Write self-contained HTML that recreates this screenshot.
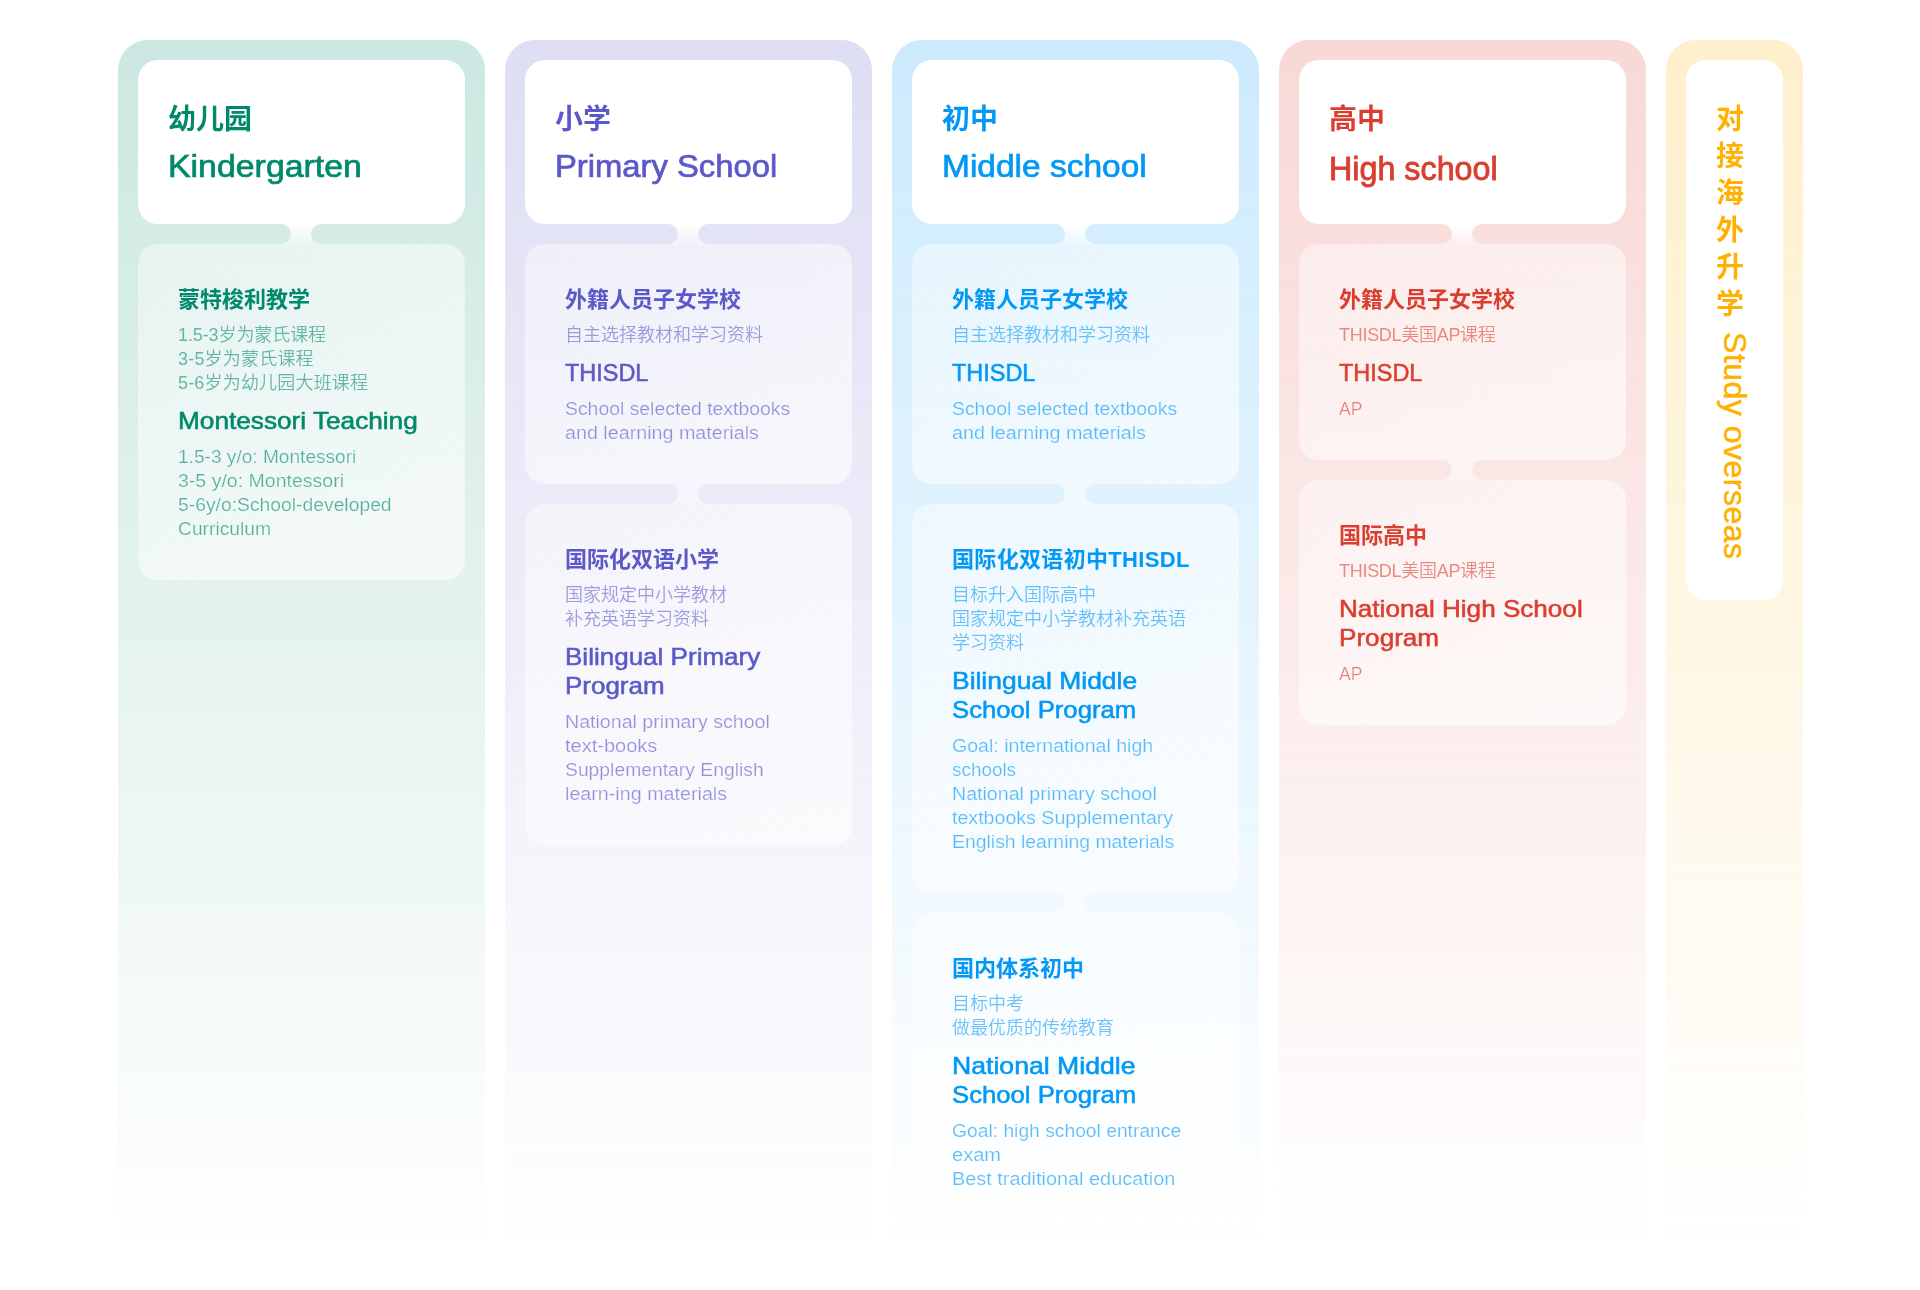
<!DOCTYPE html>
<html lang="zh-CN"><head><meta charset="utf-8">
<title>教育体系 Education System</title>
<style>
html,body{margin:0;padding:0;background:#fff;}
body{width:1920px;height:1290px;position:relative;overflow:hidden;font-family:"Liberation Sans","Noto Sans CJK SC",sans-serif;}
.col{will-change:transform;position:absolute;top:40px;height:1210px;border-radius:30px 30px 0 0;}
.card{position:absolute;left:20px;right:20px;border-radius:20px;background:linear-gradient(to bottom right,rgba(255,255,255,0.42),rgba(255,255,255,0.61));}
.card.head{background:#fff;}
.neck{position:absolute;left:50%;margin-left:-20.5px;width:40px;height:20px;display:block;}
.t{position:absolute;white-space:nowrap;margin:0;padding:0;transform-origin:0 0;}
.hz{font-size:28px;line-height:28px;height:28px;font-weight:700;}
.he{font-size:32px;line-height:32px;height:32px;font-weight:400;-webkit-text-stroke:0.7px currentColor;}
.tz{font-size:22px;line-height:22px;height:22px;font-weight:700;}
.te{font-size:24px;line-height:24px;height:24px;font-weight:400;-webkit-text-stroke:0.55px currentColor;}
.lz{font-size:18px;line-height:18px;height:18px;font-weight:350;}
.le{font-size:18px;line-height:18px;height:18px;font-weight:400;}
.vz{position:absolute;font-size:28px;line-height:28px;font-weight:700;width:28px;text-align:center;}
.ve{position:absolute;font-size:32px;line-height:32px;height:32px;white-space:nowrap;transform-origin:0 0;transform:rotate(90deg);-webkit-text-stroke:0.5px currentColor;}
.c0{left:118px;width:367px;color:#00896a;background:linear-gradient(180deg,rgba(0,137,106,0.2) 0%,rgba(0,137,106,0) 100%);}
.c0 .lz,.c0 .le{color:rgba(0,137,106,0.58);}
.c0 .le{-webkit-text-stroke:0.22px #eef7f5;color:rgba(0,137,106,0.66);}
.c1{left:505px;width:367px;color:#5b59c8;background:linear-gradient(180deg,rgba(91,89,200,0.2) 0%,rgba(91,89,200,0) 100%);}
.c1 .lz,.c1 .le{color:rgba(91,89,200,0.58);}
.c1 .le{-webkit-text-stroke:0.22px #f4f4fb;color:rgba(91,89,200,0.66);}
.c2{left:892px;width:367px;color:#0298f5;background:linear-gradient(180deg,rgba(2,152,245,0.2) 0%,rgba(2,152,245,0) 100%);}
.c2 .lz,.c2 .le{color:rgba(2,152,245,0.58);}
.c2 .le{-webkit-text-stroke:0.22px #eef8fe;color:rgba(2,152,245,0.66);}
.c3{left:1279px;width:367px;color:#da3e30;background:linear-gradient(180deg,rgba(218,62,48,0.2) 0%,rgba(218,62,48,0) 100%);}
.c3 .lz,.c3 .le{color:rgba(218,62,48,0.58);}
.c3 .le{-webkit-text-stroke:0.22px #fdf2f1;color:rgba(218,62,48,0.66);}
.c4{left:1666px;width:137px;color:#ffb000;background:linear-gradient(180deg,rgba(255,176,0,0.2) 0%,rgba(255,176,0,0) 100%);}
.c4 .lz,.c4 .le{color:rgba(255,176,0,0.58);}
.c4 .le{-webkit-text-stroke:0.22px #fffaee;color:rgba(255,176,0,0.66);}
</style></head><body>
<section class="col c0">
<div class="card head" style="top:20px;height:164px"></div>
<svg class="neck" style="top:184px" width="40" height="20" viewBox="0 0 40 20"><defs><linearGradient id="g0" x1="0" y1="0" x2="0" y2="1"><stop offset="0" stop-color="#fff" stop-opacity="1"/><stop offset="1" stop-color="#fff" stop-opacity="0.52"/></linearGradient></defs><path d="M0,0 H40 A10,10 0 0 0 30,10 A10,10 0 0 0 40,20 H0 A10,10 0 0 0 10,10 A10,10 0 0 0 0,0 Z" fill="url(#g0)"/></svg>
<div class="card" style="top:204px;height:336px"></div>
<h2 class="t hz" id="t0" style="left:50px;top:66.1px;">幼儿园</h2>
<h2 class="t he" id="t1" style="left:50px;top:109.9px;transform:scaleX(1.0582);">Kindergarten</h2>
<h3 class="t tz" id="t2" style="left:60px;top:248.9px;">蒙特梭利教学</h3>
<p class="t lz" id="t3" style="left:60px;top:286.1px;letter-spacing:-0.10px;">1.5-3岁为蒙氏课程</p>
<p class="t lz" id="t4" style="left:60px;top:310.1px;letter-spacing:0.20px;">3-5岁为蒙氏课程</p>
<p class="t lz" id="t5" style="left:60px;top:334.1px;letter-spacing:0.18px;">5-6岁为幼儿园大班课程</p>
<h3 class="t te" id="t6" style="left:60px;top:368.8px;transform:scaleX(1.0914);">Montessori Teaching</h3>
<p class="t le" id="t7" style="left:60px;top:408.2px;transform:scaleX(1.0611);">1.5-3 y/o: Montessori</p>
<p class="t le" id="t8" style="left:60px;top:432.2px;transform:scaleX(1.0843);">3-5 y/o: Montessori</p>
<p class="t le" id="t9" style="left:60px;top:456.2px;transform:scaleX(1.0727);">5-6y/o:School-developed</p>
<p class="t le" id="t10" style="left:60px;top:480.2px;transform:scaleX(1.0698);">Curriculum</p>
</section>
<section class="col c1">
<div class="card head" style="top:20px;height:164px"></div>
<svg class="neck" style="top:184px" width="40" height="20" viewBox="0 0 40 20"><defs><linearGradient id="g1" x1="0" y1="0" x2="0" y2="1"><stop offset="0" stop-color="#fff" stop-opacity="1"/><stop offset="1" stop-color="#fff" stop-opacity="0.52"/></linearGradient></defs><path d="M0,0 H40 A10,10 0 0 0 30,10 A10,10 0 0 0 40,20 H0 A10,10 0 0 0 10,10 A10,10 0 0 0 0,0 Z" fill="url(#g1)"/></svg>
<div class="card" style="top:204px;height:240px"></div>
<svg class="neck" style="top:444px" width="40" height="20" viewBox="0 0 40 20"><path d="M0,0 H40 A10,10 0 0 0 30,10 A10,10 0 0 0 40,20 H0 A10,10 0 0 0 10,10 A10,10 0 0 0 0,0 Z" fill="rgba(255,255,255,0.52)"/></svg>
<div class="card" style="top:464px;height:341px"></div>
<h2 class="t hz" id="t11" style="left:50px;top:66.1px;">小学</h2>
<h2 class="t he" id="t12" style="left:50px;top:109.9px;transform:scaleX(1.0243);">Primary School</h2>
<h3 class="t tz" id="t13" style="left:60px;top:248.9px;">外籍人员子女学校</h3>
<p class="t lz" id="t14" style="left:60px;top:286.1px;">自主选择教材和学习资料</p>
<h3 class="t te" id="t15" style="left:60px;top:320.8px;transform:scaleX(0.9765);">THISDL</h3>
<p class="t le" id="t16" style="left:60px;top:360.2px;transform:scaleX(1.0766);">School selected textbooks</p>
<p class="t le" id="t17" style="left:60px;top:384.2px;transform:scaleX(1.0949);">and learning materials</p>
<h3 class="t tz" id="t18" style="left:60px;top:508.9px;">国际化双语小学</h3>
<p class="t lz" id="t19" style="left:60px;top:546.1px;">国家规定中小学教材</p>
<p class="t lz" id="t20" style="left:60px;top:570.1px;">补充英语学习资料</p>
<h3 class="t te" id="t21" style="left:60px;top:604.8px;transform:scaleX(1.0843);">Bilingual Primary</h3>
<h3 class="t te" id="t22" style="left:60px;top:633.8px;transform:scaleX(1.0813);">Program</h3>
<p class="t le" id="t23" style="left:60px;top:673.2px;transform:scaleX(1.0889);">National primary school</p>
<p class="t le" id="t24" style="left:60px;top:697.2px;transform:scaleX(1.1110);">text-books</p>
<p class="t le" id="t25" style="left:60px;top:721.2px;transform:scaleX(1.0730);">Supplementary English</p>
<p class="t le" id="t26" style="left:60px;top:745.2px;transform:scaleX(1.0946);">learn-ing materials</p>
</section>
<section class="col c2">
<div class="card head" style="top:20px;height:164px"></div>
<svg class="neck" style="top:184px" width="40" height="20" viewBox="0 0 40 20"><defs><linearGradient id="g2" x1="0" y1="0" x2="0" y2="1"><stop offset="0" stop-color="#fff" stop-opacity="1"/><stop offset="1" stop-color="#fff" stop-opacity="0.52"/></linearGradient></defs><path d="M0,0 H40 A10,10 0 0 0 30,10 A10,10 0 0 0 40,20 H0 A10,10 0 0 0 10,10 A10,10 0 0 0 0,0 Z" fill="url(#g2)"/></svg>
<div class="card" style="top:204px;height:240px"></div>
<svg class="neck" style="top:444px" width="40" height="20" viewBox="0 0 40 20"><path d="M0,0 H40 A10,10 0 0 0 30,10 A10,10 0 0 0 40,20 H0 A10,10 0 0 0 10,10 A10,10 0 0 0 0,0 Z" fill="rgba(255,255,255,0.52)"/></svg>
<div class="card" style="top:464px;height:389px"></div>
<svg class="neck" style="top:853px" width="40" height="20" viewBox="0 0 40 20"><path d="M0,0 H40 A10,10 0 0 0 30,10 A10,10 0 0 0 40,20 H0 A10,10 0 0 0 10,10 A10,10 0 0 0 0,0 Z" fill="rgba(255,255,255,0.52)"/></svg>
<div class="card" style="top:873px;height:317px"></div>
<h2 class="t hz" id="t27" style="left:50px;top:66.1px;">初中</h2>
<h2 class="t he" id="t28" style="left:50px;top:109.9px;transform:scaleX(1.0464);">Middle school</h2>
<h3 class="t tz" id="t29" style="left:60px;top:248.9px;">外籍人员子女学校</h3>
<p class="t lz" id="t30" style="left:60px;top:286.1px;">自主选择教材和学习资料</p>
<h3 class="t te" id="t31" style="left:60px;top:320.8px;transform:scaleX(0.9765);">THISDL</h3>
<p class="t le" id="t32" style="left:60px;top:360.2px;transform:scaleX(1.0766);">School selected textbooks</p>
<p class="t le" id="t33" style="left:60px;top:384.2px;transform:scaleX(1.0949);">and learning materials</p>
<h3 class="t tz" id="t34" style="left:60px;top:508.9px;letter-spacing:0.33px;">国际化双语初中THISDL</h3>
<p class="t lz" id="t35" style="left:60px;top:546.1px;">目标升入国际高中</p>
<p class="t lz" id="t36" style="left:60px;top:570.1px;">国家规定中小学教材补充英语</p>
<p class="t lz" id="t37" style="left:60px;top:594.1px;">学习资料</p>
<h3 class="t te" id="t38" style="left:60px;top:628.8px;transform:scaleX(1.1012);">Bilingual Middle</h3>
<h3 class="t te" id="t39" style="left:60px;top:657.8px;transform:scaleX(1.0702);">School Program</h3>
<p class="t le" id="t40" style="left:60px;top:697.2px;transform:scaleX(1.0870);">Goal: international high</p>
<p class="t le" id="t41" style="left:60px;top:721.2px;transform:scaleX(1.0495);">schools</p>
<p class="t le" id="t42" style="left:60px;top:745.2px;transform:scaleX(1.0889);">National primary school</p>
<p class="t le" id="t43" style="left:60px;top:769.2px;transform:scaleX(1.0887);">textbooks Supplementary</p>
<p class="t le" id="t44" style="left:60px;top:793.2px;transform:scaleX(1.0777);">English learning materials</p>
<h3 class="t tz" id="t45" style="left:60px;top:917.9px;">国内体系初中</h3>
<p class="t lz" id="t46" style="left:60px;top:955.1px;">目标中考</p>
<p class="t lz" id="t47" style="left:60px;top:979.1px;">做最优质的传统教育</p>
<h3 class="t te" id="t48" style="left:60px;top:1013.8px;transform:scaleX(1.1091);">National Middle</h3>
<h3 class="t te" id="t49" style="left:60px;top:1042.8px;transform:scaleX(1.0702);">School Program</h3>
<p class="t le" id="t50" style="left:60px;top:1082.2px;transform:scaleX(1.0701);">Goal: high school entrance</p>
<p class="t le" id="t51" style="left:60px;top:1106.2px;transform:scaleX(1.1120);">exam</p>
<p class="t le" id="t52" style="left:60px;top:1130.2px;transform:scaleX(1.1045);">Best traditional education</p>
</section>
<section class="col c3">
<div class="card head" style="top:20px;height:164px"></div>
<svg class="neck" style="top:184px" width="40" height="20" viewBox="0 0 40 20"><defs><linearGradient id="g3" x1="0" y1="0" x2="0" y2="1"><stop offset="0" stop-color="#fff" stop-opacity="1"/><stop offset="1" stop-color="#fff" stop-opacity="0.52"/></linearGradient></defs><path d="M0,0 H40 A10,10 0 0 0 30,10 A10,10 0 0 0 40,20 H0 A10,10 0 0 0 10,10 A10,10 0 0 0 0,0 Z" fill="url(#g3)"/></svg>
<div class="card" style="top:204px;height:216px"></div>
<svg class="neck" style="top:420px" width="40" height="20" viewBox="0 0 40 20"><path d="M0,0 H40 A10,10 0 0 0 30,10 A10,10 0 0 0 40,20 H0 A10,10 0 0 0 10,10 A10,10 0 0 0 0,0 Z" fill="rgba(255,255,255,0.52)"/></svg>
<div class="card" style="top:440px;height:245px"></div>
<h2 class="t hz" id="t53" style="left:50px;top:66.1px;">高中</h2>
<h2 class="t he" id="t54" style="left:50px;top:110.6px;font-size:34px;line-height:34px;height:34px;-webkit-text-stroke-width:0.9px;transform:scaleX(0.9496);">High school</h2>
<h3 class="t tz" id="t55" style="left:60px;top:248.9px;">外籍人员子女学校</h3>
<p class="t lz" id="t56" style="left:60px;top:286.1px;letter-spacing:-0.29px;">THISDL美国AP课程</p>
<h3 class="t te" id="t57" style="left:60px;top:320.8px;transform:scaleX(0.9765);">THISDL</h3>
<p class="t le" id="t58" style="left:60px;top:360.2px;transform:scaleX(0.9750);">AP</p>
<h3 class="t tz" id="t59" style="left:60px;top:484.9px;">国际高中</h3>
<p class="t lz" id="t60" style="left:60px;top:522.1px;letter-spacing:-0.29px;">THISDL美国AP课程</p>
<h3 class="t te" id="t61" style="left:60px;top:556.8px;transform:scaleX(1.0872);">National High School</h3>
<h3 class="t te" id="t62" style="left:60px;top:585.8px;transform:scaleX(1.0879);">Program</h3>
<p class="t le" id="t63" style="left:60px;top:625.2px;transform:scaleX(0.9750);">AP</p>
</section>
<section class="col c4">
<div class="card head" style="top:20px;height:540px"></div>
<div class="vz" style="left:50px;top:66px">对</div>
<div class="vz" style="left:50px;top:103px">接</div>
<div class="vz" style="left:50px;top:140px">海</div>
<div class="vz" style="left:50px;top:177px">外</div>
<div class="vz" style="left:50px;top:214px">升</div>
<div class="vz" style="left:50px;top:251px">学</div>
<div class="ve" id="ve" style="left:84.5px;top:292px;letter-spacing:0.5px">Study overseas</div>
</section>
</body></html>
